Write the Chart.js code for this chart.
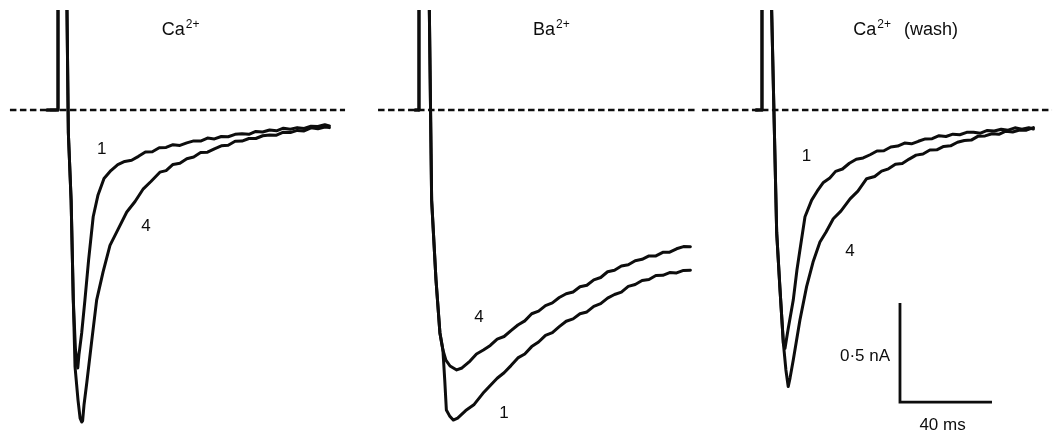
<!DOCTYPE html>
<html>
<head>
<meta charset="utf-8">
<script src="https://cdn.jsdelivr.net/npm/chart.js@4.4.1/dist/chart.umd.min.js"></script>
<style>
  html, body { margin: 0; padding: 0; background: #fff; }
  #wrap { position: relative; width: 1057px; height: 436px; }
</style>
</head>
<body>
<div id="wrap"><canvas id="traceChart"></canvas></div>
<script>
// ============================
// Data: time (ms from step onset) and current (nA)
// ============================

// Ca2+ panel
const caT1 = [-4.8, 0, 0, 3.8, 3.9, 4.5, 5.7, 6.65, 7.6, 8.6, 9.1, 10.3, 11.7, 13.3, 15.3, 17.4,
  20, 23, 26, 29, 32, 35, 38, 41, 44, 47, 50, 53, 56, 59, 62, 65, 68, 71, 74, 77,
  80, 83, 86, 89, 92, 95, 98, 101, 104, 107, 110, 113, 116, 118];
const caI1 = [0, 0, 2.5, 2.5, 0.505, -0.116, -0.455, -0.96, -1.212, -1.303, -1.237, -1.126, -0.96, -0.758, -0.539, -0.429,
  -0.346, -0.306, -0.276, -0.260, -0.254, -0.234, -0.212, -0.211, -0.191, -0.189, -0.175, -0.179, -0.166, -0.156, -0.157, -0.142, -0.146, -0.134, -0.135, -0.123,
  -0.120, -0.123, -0.108, -0.111, -0.101, -0.105, -0.092, -0.097, -0.089, -0.093, -0.082, -0.083, -0.074, -0.080];
const caT4 = [-4.8, 0, 0, 3.8, 3.9, 4.5, 5.7, 6.65, 7.4, 8.7, 9.6, 10.3, 10.7, 11.3, 12.5, 14.7, 16.8, 19.6, 22.6, 26.1, 29.9, 33.5, 37.1, 40.4, 44.3,
  47, 50, 53, 56, 59, 62, 65, 68, 71, 74, 77, 80, 83, 86, 89, 92, 95, 98, 101, 104, 107, 110, 113, 116, 118];
const caI4 = [0, 0, 2.5, 2.5, 0.505, -0.116, -0.455, -0.96, -1.296, -1.465, -1.556, -1.576, -1.57, -1.49, -1.379, -1.162, -0.96, -0.818, -0.684, -0.603, -0.515, -0.462, -0.398, -0.361, -0.314,
  -0.306, -0.275, -0.269, -0.246, -0.237, -0.215, -0.213, -0.196, -0.181, -0.178, -0.158, -0.157, -0.144, -0.144, -0.130, -0.126, -0.127, -0.112, -0.114, -0.103,
  -0.106, -0.090, -0.095, -0.086, -0.089];

// Ba2+ panel
const baT1 = [-1.7, 0, 0, 4.2, 4.5, 5.5, 7.4, 9.1, 10.4, 11.2, 11.9, 13.3, 14.9, 16.8, 20.3, 24, 27.8,
  31, 34, 37, 40, 43, 46, 49, 52, 55, 58, 61, 64, 67, 70, 73, 76, 79, 82, 85, 88, 91, 94, 97, 100, 103, 106, 109, 112, 115, 118];
const baI1 = [0, 0, 2.5, 2.5, 0.505, -0.455, -0.859, -1.126, -1.212, -1.364, -1.515, -1.545, -1.566, -1.556, -1.518, -1.487, -1.431,
  -1.391, -1.355, -1.327, -1.291, -1.252, -1.232, -1.195, -1.172, -1.138, -1.124, -1.094, -1.067, -1.055, -1.029, -1.020, -0.992, -0.978, -0.950, -0.932, -0.920,
  -0.891, -0.881, -0.861, -0.856, -0.836, -0.835, -0.821, -0.823, -0.810, -0.809];
const baT4 = [-1.7, 0, 0, 4.2, 4.5, 5.5, 7.4, 9.1, 10.4, 11.7, 13.5, 16.4, 18.7, 22.2, 25, 28,
  31, 34, 37, 40, 43, 46, 49, 52, 55, 58, 61, 64, 67, 70, 73, 76, 79, 82, 85, 88, 91, 94, 97, 100, 103, 106, 109, 112, 115, 118];
const baI4 = [0, 0, 2.5, 2.5, 0.505, -0.455, -0.859, -1.126, -1.212, -1.263, -1.293, -1.313, -1.303, -1.268, -1.232, -1.212,
  -1.189, -1.157, -1.144, -1.114, -1.086, -1.065, -1.029, -1.016, -0.988, -0.974, -0.947, -0.928, -0.919, -0.893, -0.885, -0.858, -0.846, -0.817, -0.809, -0.788,
  -0.782, -0.761, -0.754, -0.737, -0.737, -0.719, -0.718, -0.701, -0.690, -0.691];

// Ca2+ (wash) panel
const washT1 = [-2.6, 0, 0, 4.1, 4.2, 6.4, 7.8, 9.3, 10, 11.3, 13.6, 15.2, 16.5, 18.7, 21.6, 24, 26.7, 29.5,
  32, 35, 38, 41, 44, 47, 50, 53, 56, 59, 62, 65, 68, 71, 74, 77, 80, 83, 86, 89, 92, 95, 98, 101, 104, 107, 110, 113, 116, 118];
const washI1 = [0, 0, 2.5, 2.5, 0.505, -0.621, -0.9, -1.177, -1.204, -1.111, -0.96, -0.808, -0.707, -0.539, -0.455, -0.410, -0.366, -0.343,
  -0.310, -0.298, -0.269, -0.249, -0.242, -0.226, -0.207, -0.206, -0.187, -0.182, -0.167, -0.171, -0.158, -0.146, -0.145, -0.130, -0.134, -0.122, -0.125, -0.113,
  -0.112, -0.117, -0.103, -0.106, -0.097, -0.102, -0.090, -0.097, -0.090, -0.096];
const washT4 = [-2.6, 0, 0, 4.1, 4.2, 6.4, 7.8, 9.3, 10.4, 11.4, 12.2, 13.6, 16.5, 19.4, 22.2, 25.2, 27.8, 31, 34.3, 38.3, 41.7, 45.5,
  49, 52, 55, 58, 61, 64, 67, 70, 73, 76, 79, 82, 85, 88, 91, 94, 97, 100, 103, 106, 109, 112, 115, 118];
const washI4 = [0, 0, 2.5, 2.5, 0.505, -0.621, -0.9, -1.177, -1.313, -1.397, -1.354, -1.263, -1.061, -0.892, -0.768, -0.667, -0.617, -0.549, -0.511, -0.449, -0.410, -0.347,
  -0.336, -0.309, -0.297, -0.274, -0.270, -0.248, -0.228, -0.222, -0.202, -0.201, -0.184, -0.181, -0.163, -0.154, -0.152, -0.132, -0.131, -0.120,
  -0.123, -0.107, -0.111, -0.101, -0.102, -0.089];

// zero-current reference (dashed), start/end time per panel
const baselineT = [[-20.9, 124.8], [-17.8, 121.3], [-26.1, 126.1]];
const baselineI = [0, 0];

// scale bar: 0.5 nA x 40 ms (drawn in the wash panel)
const scaleBarT = [60, 60, 100];
const scaleBarI = [-0.975, -1.475, -1.475];

// text
const panelIon = ["Ca", "Ba", "Ca"];
const panelNote = ["", "", "(wash)"];
const ionCharge = "2+";
const traceNames = ["1", "4"];

// ============================
// Layout (ms offset of each panel on the shared time axis)
// ============================
const panelOffset = [25.22, 182.17, 331.3];
const titleT = [45.1, 49.6, 39.7];
const titleI = 0.379;
const labelT = [[19, 38.3], [37, 26.1], [19.4, 38.3]];   // [trace 1, trace 4]
const labelI = [[-0.198, -0.586], [-1.53, -1.045], [-0.236, -0.716]];

const INK = "#0d0d0d";
const FONT = '"Liberation Sans", Arial, Helvetica, sans-serif';

function pts(ts, vs, off) {
  return ts.map((t, i) => ({ x: t + off, y: vs[i] }));
}

function traceSet(ts, vs, p) {
  return {
    data: pts(ts, vs, panelOffset[p]),
    borderColor: INK,
    borderWidth: 3,
    pointRadius: 0,
    tension: 0,
    borderJoinStyle: "round",
    borderCapStyle: "round",
    fill: false
  };
}

const datasets = [];

// dashed baselines first, so traces sit on top
baselineT.forEach((range, p) => {
  datasets.push({
    data: pts(range, baselineI, panelOffset[p]),
    borderColor: INK,
    borderWidth: 2.6,
    borderDash: [6.5, 3.5],
    borderCapStyle: "butt",
    pointRadius: 0,
    fill: false
  });
});

datasets.push(traceSet(caT1, caI1, 0));
datasets.push(traceSet(caT4, caI4, 0));
datasets.push(traceSet(baT1, baI1, 1));
datasets.push(traceSet(baT4, baI4, 1));
datasets.push(traceSet(washT1, washI1, 2));
datasets.push(traceSet(washT4, washI4, 2));

datasets.push({
  data: pts(scaleBarT, scaleBarI, panelOffset[2]),
  borderColor: INK,
  borderWidth: 2.8,
  borderJoinStyle: "miter",
  borderCapStyle: "butt",
  pointRadius: 0,
  fill: false
});

// ============================
// Titles, trace numbers, scale-bar text
// ============================
const textPlugin = {
  id: "traceText",
  afterDatasetsDraw(chart) {
    const { ctx } = chart;
    const xs = chart.scales.x;
    const ys = chart.scales.y;
    ctx.save();
    ctx.fillStyle = INK;

    // panel titles with superscript charge
    ctx.textAlign = "left";
    ctx.textBaseline = "alphabetic";
    panelIon.forEach((ion, p) => {
      let px = xs.getPixelForValue(titleT[p] + panelOffset[p]);
      const py = ys.getPixelForValue(titleI);
      ctx.font = "18px " + FONT;
      ctx.fillText(ion, px, py);
      px += ctx.measureText(ion).width + 1;
      ctx.font = "12px " + FONT;
      ctx.fillText(ionCharge, px, py - 7);
      px += ctx.measureText(ionCharge).width;
      if (panelNote[p]) {
        ctx.font = "18px " + FONT;
        ctx.fillText(panelNote[p], px + 13, py);
      }
    });

    // trace numbers
    ctx.font = "17px " + FONT;
    ctx.textAlign = "center";
    ctx.textBaseline = "middle";
    labelT.forEach((row, p) => {
      row.forEach((t, k) => {
        ctx.fillText(traceNames[k],
          xs.getPixelForValue(t + panelOffset[p]),
          ys.getPixelForValue(labelI[p][k]));
      });
    });

    // scale bar text
    ctx.textAlign = "right";
    ctx.fillText("0\u00B75 nA", xs.getPixelForValue(55.7 + panelOffset[2]), ys.getPixelForValue(-1.242));
    ctx.textAlign = "center";
    ctx.fillText("40 ms", xs.getPixelForValue(78.5 + panelOffset[2]), ys.getPixelForValue(-1.591));

    ctx.restore();
  }
};

const canvas = document.getElementById("traceChart");
const traceChart = new Chart(canvas.getContext("2d"), {
  type: "line",
  data: { datasets },
  options: {
    responsive: true,
    maintainAspectRatio: false,
    animation: false,
    events: [],
    layout: { padding: { top: 10, left: 0, right: 0, bottom: 0 } },
    plugins: {
      legend: { display: false },
      tooltip: { enabled: false }
    },
    scales: {
      x: { type: "linear", display: false, min: 0, max: 459.57 },
      y: { type: "linear", display: false, min: -1.6465, max: 0.50505 }
    }
  },
  plugins: [textPlugin]
});
</script>
</body>
</html>
